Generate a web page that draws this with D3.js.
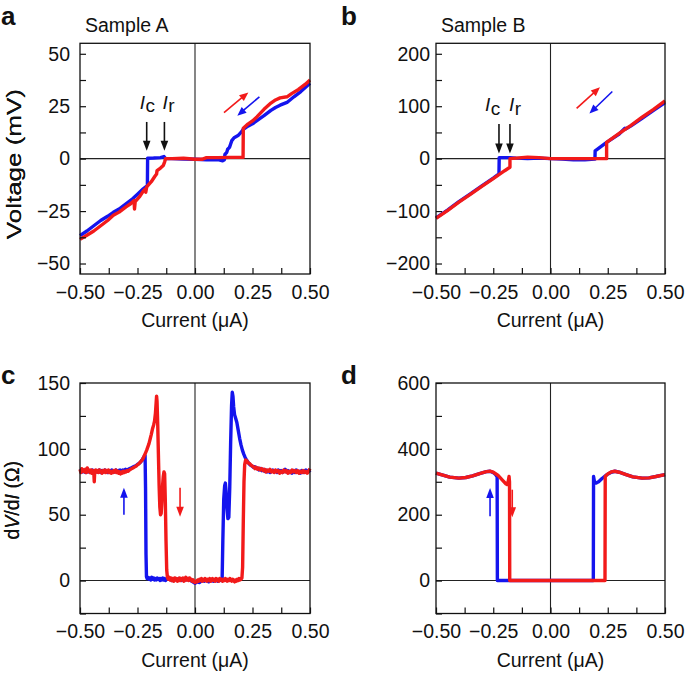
<!DOCTYPE html>
<html><head><meta charset="utf-8">
<script src="https://cdn.jsdelivr.net/npm/d3@7"></script>
<style>body{margin:0;background:#fff}svg{display:block}text{font-family:"Liberation Sans",Arial,Helvetica,sans-serif;fill:#111}</style>
</head><body><svg id="fig" width="685" height="674"></svg>
<script>
// ---------- data ----------
const xTicks = [-0.5, -0.25, 0, 0.25, 0.5];
const xMinor = [-0.375, -0.125, 0.125, 0.375];

const aYTicks = [-50, -25, 0, 25, 50];
const aYMinor = [-37.5, -12.5, 12.5, 37.5];
const bYTicks = [-200, -100, 0, 100, 200];
const bYMinor = [-150, -50, 50, 150];
const cYTicks = [0, 50, 100, 150];
const cYMinor = [-25, 25, 75, 125];
const dYTicks = [0, 200, 400, 600];
const dYMinor = [-100, 100, 300, 500];

// Sample A, V (mV) vs I (uA)
const aRed = [[-0.5,-38.5],[-0.47,-36.5],[-0.44,-34.5],[-0.41,-32],[-0.38,-29.5],[-0.355,-27],[-0.33,-25.5],[-0.3,-23],[-0.28,-21.5],[-0.265,-20],[-0.263,-24],[-0.26,-20.5],[-0.24,-18],[-0.225,-15.5],[-0.216,-14.5],[-0.214,-16],[-0.21,-13.5],[-0.19,-11],[-0.175,-8.5],[-0.167,-7.3],[-0.165,-5.7],[-0.15,-4.5],[-0.138,-3.3],[-0.132,-1.5],[-0.128,0],[-0.1,0],[-0.05,0.2],[0,-0.3],[0.03,-0.3],[0.05,0.5],[0.1,0.5],[0.15,0.6],[0.209,0.6],[0.21,14.5],[0.23,16.5],[0.25,18],[0.27,20],[0.3,23.5],[0.33,26.5],[0.35,28],[0.37,29],[0.4,29.5],[0.42,31],[0.45,33],[0.48,35.5],[0.5,37.5]];
const aBlue = [[-0.5,-36.7],[-0.47,-34.5],[-0.44,-32],[-0.41,-29.5],[-0.38,-27.5],[-0.355,-25.6],[-0.33,-24],[-0.3,-21.5],[-0.27,-19],[-0.25,-17],[-0.225,-14.4],[-0.207,-12.9],[-0.206,0.2],[-0.18,0.3],[-0.15,0.5],[-0.135,1],[-0.128,0],[-0.1,0],[-0.05,-0.2],[0,-0.3],[0.05,-0.5],[0.1,-0.5],[0.12,-1],[0.128,-0.5],[0.13,2],[0.138,3],[0.142,4.5],[0.15,5.4],[0.155,7],[0.16,8.6],[0.17,10],[0.187,11],[0.2,12.5],[0.21,14],[0.23,15.5],[0.25,16.6],[0.28,19],[0.3,20.5],[0.33,23],[0.35,24.4],[0.37,25.5],[0.4,26.8],[0.43,29.5],[0.46,32],[0.5,36]];

// Sample B, V (mV) vs I (uA)
const bRed = [[-0.5,-114],[-0.45,-99],[-0.4,-83],[-0.35,-68],[-0.3,-53],[-0.25,-38],[-0.2,-23],[-0.177,-16.5],[-0.177,0],[-0.15,1],[-0.1,3],[-0.05,2],[0,0],[0.05,0],[0.1,0],[0.15,0],[0.2,0],[0.245,0],[0.245,31],[0.3,48],[0.35,63],[0.4,79],[0.45,94],[0.5,110]];
const bBlue = [[-0.5,-113],[-0.45,-98],[-0.4,-82],[-0.35,-67],[-0.3,-52],[-0.25,-37],[-0.225,-29],[-0.224,2],[-0.2,2],[-0.177,2],[-0.15,1],[-0.1,0],[-0.05,1],[0,0],[0.05,-1],[0.1,-2],[0.15,-2],[0.194,-1],[0.195,15],[0.245,31],[0.3,47],[0.325,58],[0.33,57],[0.35,62],[0.4,77],[0.45,92],[0.5,107]];

// Sample A, dV/dI (Ohm) vs I (uA)
const cRed = [[-0.500,84.5],[-0.496,82.0],[-0.492,85.0],[-0.488,83.0],[-0.484,84.0],[-0.480,82.5],[-0.476,84.5],[-0.472,82.0],[-0.468,85.5],[-0.464,83.0],[-0.460,84.0],[-0.456,82.0],[-0.452,84.0],[-0.448,81.5],[-0.444,83.5],[-0.440,82.0],[-0.438,75.0],[-0.436,82.5],[-0.432,84.0],[-0.428,82.5],[-0.424,83.5],[-0.420,82.0],[-0.416,84.0],[-0.412,82.5],[-0.408,83.0],[-0.404,81.5],[-0.400,83.5],[-0.396,82.5],[-0.392,84.0],[-0.388,82.0],[-0.384,83.5],[-0.380,82.5],[-0.376,84.0],[-0.372,82.0],[-0.368,83.0],[-0.364,81.5],[-0.360,83.0],[-0.356,82.0],[-0.352,83.5],[-0.348,82.5],[-0.344,84.0],[-0.340,82.0],[-0.336,83.0],[-0.332,81.5],[-0.328,82.5],[-0.324,81.0],[-0.320,82.5],[-0.316,81.5],[-0.312,83.0],[-0.308,82.0],[-0.304,83.0],[-0.300,82.5],[-0.295,83.5],[-0.290,83.0],[-0.285,84.0],[-0.280,84.5],[-0.275,85.0],[-0.270,85.5],[-0.265,86.0],[-0.260,86.5],[-0.255,87.0],[-0.250,88.0],[-0.245,88.5],[-0.240,89.5],[-0.235,90.5],[-0.230,91.5],[-0.225,93.0],[-0.220,95.0],[-0.215,97.0],[-0.210,99.0],[-0.205,101.5],[-0.200,104.0],[-0.195,107.5],[-0.190,111.0],[-0.185,115.0],[-0.180,118.0],[-0.176,121.0],[-0.172,127.0],[-0.169,135.0],[-0.167,140.0],[-0.165,136.0],[-0.162,118.0],[-0.159,95.0],[-0.156,72.0],[-0.153,56.0],[-0.150,50.0],[-0.147,51.0],[-0.144,60.0],[-0.141,72.0],[-0.138,79.0],[-0.135,82.5],[-0.132,81.0],[-0.129,60.0],[-0.126,30.0],[-0.123,8.0],[-0.120,2.5],[-0.116,1.0],[-0.112,2.5],[-0.108,0.5],[-0.104,2.0],[-0.100,0.0],[-0.096,1.5],[-0.092,-0.5],[-0.088,2.0],[-0.084,0.5],[-0.080,1.5],[-0.076,-0.5],[-0.072,1.0],[-0.068,2.0],[-0.064,0.0],[-0.060,1.5],[-0.056,0.5],[-0.052,2.0],[-0.048,-0.5],[-0.044,1.0],[-0.040,2.5],[-0.036,0.5],[-0.032,1.5],[-0.028,0.0],[-0.024,2.0],[-0.020,0.5],[-0.016,1.0],[-0.012,-0.5],[-0.008,0.5],[-0.004,-1.0],[0.000,-1.5],[0.004,-0.5],[0.008,-1.0],[0.012,0.5],[0.016,-0.5],[0.020,1.0],[0.024,0.0],[0.028,1.5],[0.032,-0.5],[0.036,1.0],[0.040,0.0],[0.044,1.5],[0.048,0.5],[0.052,-0.5],[0.056,1.0],[0.060,0.0],[0.064,1.5],[0.068,-0.5],[0.072,0.5],[0.076,1.5],[0.080,0.0],[0.084,1.0],[0.088,-0.5],[0.092,1.5],[0.096,0.0],[0.100,1.0],[0.104,-0.5],[0.108,1.5],[0.112,0.5],[0.116,1.0],[0.120,-0.5],[0.124,1.0],[0.128,0.0],[0.132,1.5],[0.136,0.5],[0.140,-0.5],[0.144,1.0],[0.148,0.0],[0.152,1.5],[0.156,0.5],[0.160,-0.5],[0.164,1.0],[0.168,0.0],[0.172,-1.0],[0.176,0.5],[0.180,-0.5],[0.184,1.0],[0.188,0.0],[0.192,1.5],[0.196,0.5],[0.200,1.0],[0.204,2.0],[0.207,10.0],[0.210,45.0],[0.213,75.0],[0.216,88.0],[0.220,91.5],[0.225,91.0],[0.230,89.5],[0.236,89.0],[0.242,88.0],[0.248,87.0],[0.254,86.5],[0.260,85.0],[0.266,86.0],[0.272,84.5],[0.278,85.5],[0.284,84.0],[0.290,85.0],[0.296,83.5],[0.302,84.5],[0.308,82.5],[0.314,84.0],[0.320,83.0],[0.326,84.5],[0.332,82.5],[0.338,83.5],[0.344,82.0],[0.350,84.0],[0.356,82.5],[0.362,83.5],[0.368,81.5],[0.374,83.0],[0.380,82.0],[0.386,84.0],[0.392,82.5],[0.398,83.5],[0.404,81.5],[0.410,83.0],[0.416,82.0],[0.422,84.0],[0.428,82.5],[0.434,83.5],[0.440,82.0],[0.446,83.5],[0.452,81.5],[0.458,83.0],[0.464,82.0],[0.470,83.5],[0.476,82.0],[0.482,83.0],[0.488,81.5],[0.494,83.0],[0.500,85.0]];
const cBlue = [[-0.500,83.0],[-0.494,84.0],[-0.488,82.5],[-0.482,83.5],[-0.476,82.0],[-0.470,84.0],[-0.464,82.5],[-0.458,83.5],[-0.452,82.0],[-0.446,84.0],[-0.440,83.0],[-0.434,82.0],[-0.428,83.5],[-0.422,82.5],[-0.416,84.0],[-0.410,82.0],[-0.404,83.5],[-0.398,82.5],[-0.392,84.0],[-0.386,83.0],[-0.380,82.0],[-0.374,83.5],[-0.368,82.5],[-0.362,84.0],[-0.356,83.0],[-0.350,82.5],[-0.344,84.0],[-0.338,82.5],[-0.332,83.5],[-0.326,84.0],[-0.320,83.0],[-0.314,84.0],[-0.308,83.5],[-0.302,84.5],[-0.296,83.5],[-0.290,84.5],[-0.284,85.0],[-0.278,85.5],[-0.272,86.0],[-0.266,86.5],[-0.260,87.0],[-0.254,87.5],[-0.248,88.5],[-0.242,89.0],[-0.236,90.0],[-0.230,91.5],[-0.225,93.0],[-0.220,94.5],[-0.217,95.0],[-0.215,70.0],[-0.213,20.0],[-0.211,3.0],[-0.208,1.5],[-0.204,2.5],[-0.200,1.0],[-0.196,2.0],[-0.192,0.5],[-0.188,2.5],[-0.184,1.0],[-0.180,2.0],[-0.176,0.5],[-0.172,1.5],[-0.168,0.5],[-0.164,2.0],[-0.160,1.0],[-0.156,1.5],[-0.152,0.0],[-0.148,1.5],[-0.144,0.5],[-0.140,2.0],[-0.136,0.5],[-0.132,1.5],[-0.128,0.0],[-0.124,1.0],[-0.120,1.5],[-0.110,1.0],[-0.100,0.0],[-0.090,1.0],[-0.080,0.5],[-0.070,1.5],[-0.060,0.0],[-0.050,1.0],[-0.040,0.5],[-0.030,1.5],[-0.020,0.0],[-0.010,-1.0],[0.000,-2.0],[0.010,-1.0],[0.020,-1.5],[0.030,0.0],[0.040,-0.5],[0.050,0.5],[0.060,-1.0],[0.070,0.0],[0.080,-0.5],[0.090,0.5],[0.100,-0.5],[0.108,0.5],[0.114,0.0],[0.118,1.0],[0.121,30.0],[0.125,62.0],[0.129,72.0],[0.132,74.0],[0.135,68.0],[0.139,55.0],[0.143,47.0],[0.147,48.0],[0.151,70.0],[0.155,105.0],[0.159,133.0],[0.162,143.0],[0.165,140.0],[0.168,132.0],[0.172,126.0],[0.177,123.0],[0.182,120.0],[0.188,114.0],[0.194,108.0],[0.200,103.0],[0.206,99.0],[0.212,96.0],[0.218,93.5],[0.224,91.5],[0.230,90.0],[0.236,88.5],[0.242,87.5],[0.248,87.0],[0.254,86.0],[0.260,86.5],[0.266,85.0],[0.272,85.5],[0.278,84.0],[0.284,85.0],[0.290,83.5],[0.296,84.5],[0.302,83.0],[0.308,84.0],[0.314,82.5],[0.320,83.5],[0.326,82.0],[0.332,83.0],[0.338,84.0],[0.344,82.5],[0.350,83.5],[0.356,82.0],[0.362,84.0],[0.368,82.5],[0.374,83.5],[0.380,82.0],[0.386,83.0],[0.392,84.5],[0.398,82.5],[0.404,83.5],[0.410,82.0],[0.416,83.0],[0.422,81.5],[0.428,83.5],[0.434,82.0],[0.440,84.0],[0.446,82.5],[0.452,83.0],[0.458,81.5],[0.464,83.5],[0.470,82.0],[0.476,83.0],[0.482,84.0],[0.488,82.5],[0.494,83.5],[0.500,82.0]];

// Sample B, dV/dI (Ohm) vs I (uA)
const dRed = [[-0.5,326],[-0.47,320],[-0.44,314],[-0.4,311],[-0.37,313],[-0.34,318],[-0.31,325],[-0.28,331],[-0.264,332],[-0.25,329],[-0.23,320],[-0.21,305],[-0.195,294],[-0.19,292],[-0.185,300],[-0.181,316],[-0.179,300],[-0.178,0],[-0.1,0],[0,0],[0.1,0],[0.2,0],[0.238,0],[0.239,316],[0.25,324],[0.265,330],[0.28,332],[0.3,329],[0.33,322],[0.36,315],[0.4,311],[0.43,312],[0.46,316],[0.5,322]];
const dBlue = [[-0.5,326],[-0.47,320],[-0.44,314],[-0.4,311],[-0.37,313],[-0.34,318],[-0.31,325],[-0.28,331],[-0.264,332],[-0.25,328],[-0.24,322],[-0.233,315],[-0.232,0],[-0.2,0],[-0.1,0],[0,0],[0.1,0],[0.187,0],[0.188,316],[0.192,300],[0.198,296],[0.21,300],[0.225,310],[0.245,321],[0.265,329],[0.282,332],[0.3,329],[0.33,322],[0.36,315],[0.4,311],[0.43,312],[0.46,316],[0.5,322]];

// annotation arrows, in data units: [I1, y1, I2, y2]
const aSweepArrows = [["red",[0.126,22,0.232,31.6]],["blue",[0.28,29.5,0.184,20.5]]];
const bSweepArrows = [["red",[0.114,96,0.216,136]],["blue",[0.27,128,0.17,86]]];
const aIcIr = [["c",-0.21],["r",-0.133]];
const bIcIr = [["c",-0.225],["r",-0.177]];
const cSweepArrows = [["blue",[-0.309,50,-0.309,70.5]],["red",[-0.065,70.5,-0.065,48.5]]];
const dSweepArrows = [["blue",[-0.264,195,-0.264,281]],["red",[-0.167,276,-0.167,192]]];

// ---------- drawing ----------
const RED = "#f21a1a", BLUE = "#1414ee";
const col = c => c === "red" ? RED : BLUE;
const FS = 19.5;
const svg = d3.select("#fig");

function arrow(g, x1, y1, x2, y2, color, hl, hw, sw) {
  const dx = x2 - x1, dy = y2 - y1, L = Math.hypot(dx, dy), ux = dx / L, uy = dy / L;
  const bx = x2 - ux * hl, by = y2 - uy * hl;
  g.append("line").attr("x1", x1).attr("y1", y1).attr("x2", bx + ux).attr("y2", by + uy)
    .attr("stroke", color).attr("stroke-width", sw);
  g.append("path").attr("d", `M${x2},${y2}L${bx - uy * hw},${by + ux * hw}L${bx + uy * hw},${by - ux * hw}Z`)
    .attr("fill", color);
}

function panel(o) {
  const g = svg.append("g");
  const x = d3.scaleLinear().domain([-0.5, 0.5]).range([o.x0, o.x1]);
  const y = d3.scaleLinear().domain(o.yDom).range([o.y1, o.y0]);
  // zero lines
  g.append("line").attr("x1", x(-0.5)).attr("x2", x(0.5)).attr("y1", y(0)).attr("y2", y(0))
    .attr("stroke", "#222").attr("stroke-width", 1.1);
  g.append("line").attr("x1", x(0)).attr("x2", x(0)).attr("y1", o.y0).attr("y2", o.y1)
    .attr("stroke", "#222").attr("stroke-width", 1.1);
  // curves
  const line = d3.line().x(d => x(d[0])).y(d => y(d[1]));
  g.append("path").datum(o.blue).attr("d", line).attr("fill", "none").attr("stroke", BLUE)
    .attr("stroke-width", 3.4).attr("stroke-linejoin", "round");
  g.append("path").datum(o.red).attr("d", line).attr("fill", "none").attr("stroke", RED)
    .attr("stroke-width", 3.4).attr("stroke-linejoin", "round");
  // frame
  g.append("rect").attr("x", o.x0).attr("y", o.y0).attr("width", o.x1 - o.x0).attr("height", o.y1 - o.y0)
    .attr("fill", "none").attr("stroke", "#111").attr("stroke-width", 1.3);
  const styleAxis = s => { s.select(".domain").remove(); s.attr("font-size", FS).attr("font-family", null).attr("color", "#111");
    s.selectAll(".tick line").attr("stroke-width", 1.2); };
  // y axes
  g.append("g").attr("transform", `translate(${o.x0},0)`)
    .call(d3.axisLeft(y).tickValues(o.yMinor).tickSize(-6).tickFormat("")).call(styleAxis);
  g.append("g").attr("transform", `translate(${o.x0},0)`)
    .call(d3.axisLeft(y).tickValues(o.yTicks).tickSize(-6).tickPadding(o.yPad).tickFormat(d3.format("d"))).call(styleAxis);
  // x axes
  g.append("g").attr("transform", `translate(0,${o.y1})`)
    .call(d3.axisBottom(x).tickValues(xMinor).tickSize(-6).tickFormat("")).call(styleAxis);
  g.append("g").attr("transform", `translate(0,${o.y1})`)
    .call(d3.axisBottom(x).tickValues(xTicks).tickSize(-6).tickPadding(11).tickFormat(d3.format(".2f"))).call(styleAxis);
  // x title
  g.append("text").attr("x", (o.x0 + o.x1) / 2).attr("y", o.y1 + 53).attr("text-anchor", "middle")
    .attr("font-size", FS).text("Current (\u03bcA)");
  // y title
  const yt = g.append("text").attr("transform", `translate(${o.x0 + o.yTitleDx},${(o.y0 + o.y1) / 2 + o.yTitleShift}) rotate(-90)`)
    .attr("text-anchor", "middle").attr("font-size", FS);
  o.yTitle(yt);
  // panel letter
  g.append("text").attr("x", o.lx).attr("y", o.ly).attr("font-size", 26).attr("font-weight", "bold").text(o.letter);
  if (o.sample) g.append("text").attr("x", o.x0 + 5).attr("y", 31.5).attr("font-size", FS).text(o.sample);
  // arrows
  (o.sweep || []).forEach(([c, p]) => arrow(g, x(p[0]), y(p[1]), x(p[2]), y(p[3]), col(c), o.vert ? 10 : 9, 3.8, 1.6));
  if (o.icir) {
    o.icir.forEach(([sub, I], i) => {
      arrow(g, x(I), y(o.icTop), x(I), y(o.icTip), "#111", 10, 3.8, 1.6);
      const t = g.append("text").attr("x", x(I) + o.icDx[i]).attr("y", y(o.icTop) - 13).attr("font-size", 19);
      t.append("tspan").attr("font-style", "italic").text("I");
      t.append("tspan").attr("dy", 3.5).attr("dx", 0.5).text(sub);
    });
  }
}

const voltTitle = t => t.attr("font-size", 20).attr("textLength", 150).attr("lengthAdjust", "spacingAndGlyphs").text("Voltage (mV)");
const dvdiTitle = t => { t.append("tspan").text("d"); t.append("tspan").attr("font-style", "italic").text("V");
  t.append("tspan").text("/d"); t.append("tspan").attr("font-style", "italic").text("I"); t.append("tspan").text(" (\u03a9)"); };

panel({x0: 80, x1: 310, y0: 43.3, y1: 274, yDom: [-55, 55], yTicks: aYTicks, yMinor: aYMinor, yPad: 10,
  red: aRed, blue: aBlue, yTitle: voltTitle, yTitleDx: -59, yTitleShift: 5.5, letter: "a", lx: 1, ly: 25, sample: "Sample A",
  sweep: aSweepArrows, icir: aIcIr, icTop: 17.5, icTip: 3.8, icDx: [-7, -2]});
panel({x0: 436, x1: 665, y0: 43.3, y1: 274, yDom: [-220, 220], yTicks: bYTicks, yMinor: bYMinor, yPad: 6,
  red: bRed, blue: bBlue, yTitle: voltTitle, yTitleDx: -415, yTitleShift: 5.5, letter: "b", lx: 341, ly: 25, sample: "Sample B",
  sweep: bSweepArrows, icir: bIcIr, icTop: 66, icTip: 10, icDx: [-14, -1]});
panel({x0: 80, x1: 310, y0: 383, y1: 613.5, yDom: [-25, 150], yTicks: cYTicks, yMinor: cYMinor, yPad: 10,
  red: cRed, blue: cBlue, yTitle: dvdiTitle, yTitleDx: -61, yTitleShift: 2, letter: "c", lx: 1, ly: 384,
  sweep: cSweepArrows, vert: true});
panel({x0: 436, x1: 665, y0: 383, y1: 613.5, yDom: [-100, 600], yTicks: dYTicks, yMinor: dYMinor, yPad: 6,
  red: dRed, blue: dBlue, yTitle: dvdiTitle, yTitleDx: -417, yTitleShift: 2, letter: "d", lx: 341, ly: 384,
  sweep: dSweepArrows, vert: true});
</script></body></html>
